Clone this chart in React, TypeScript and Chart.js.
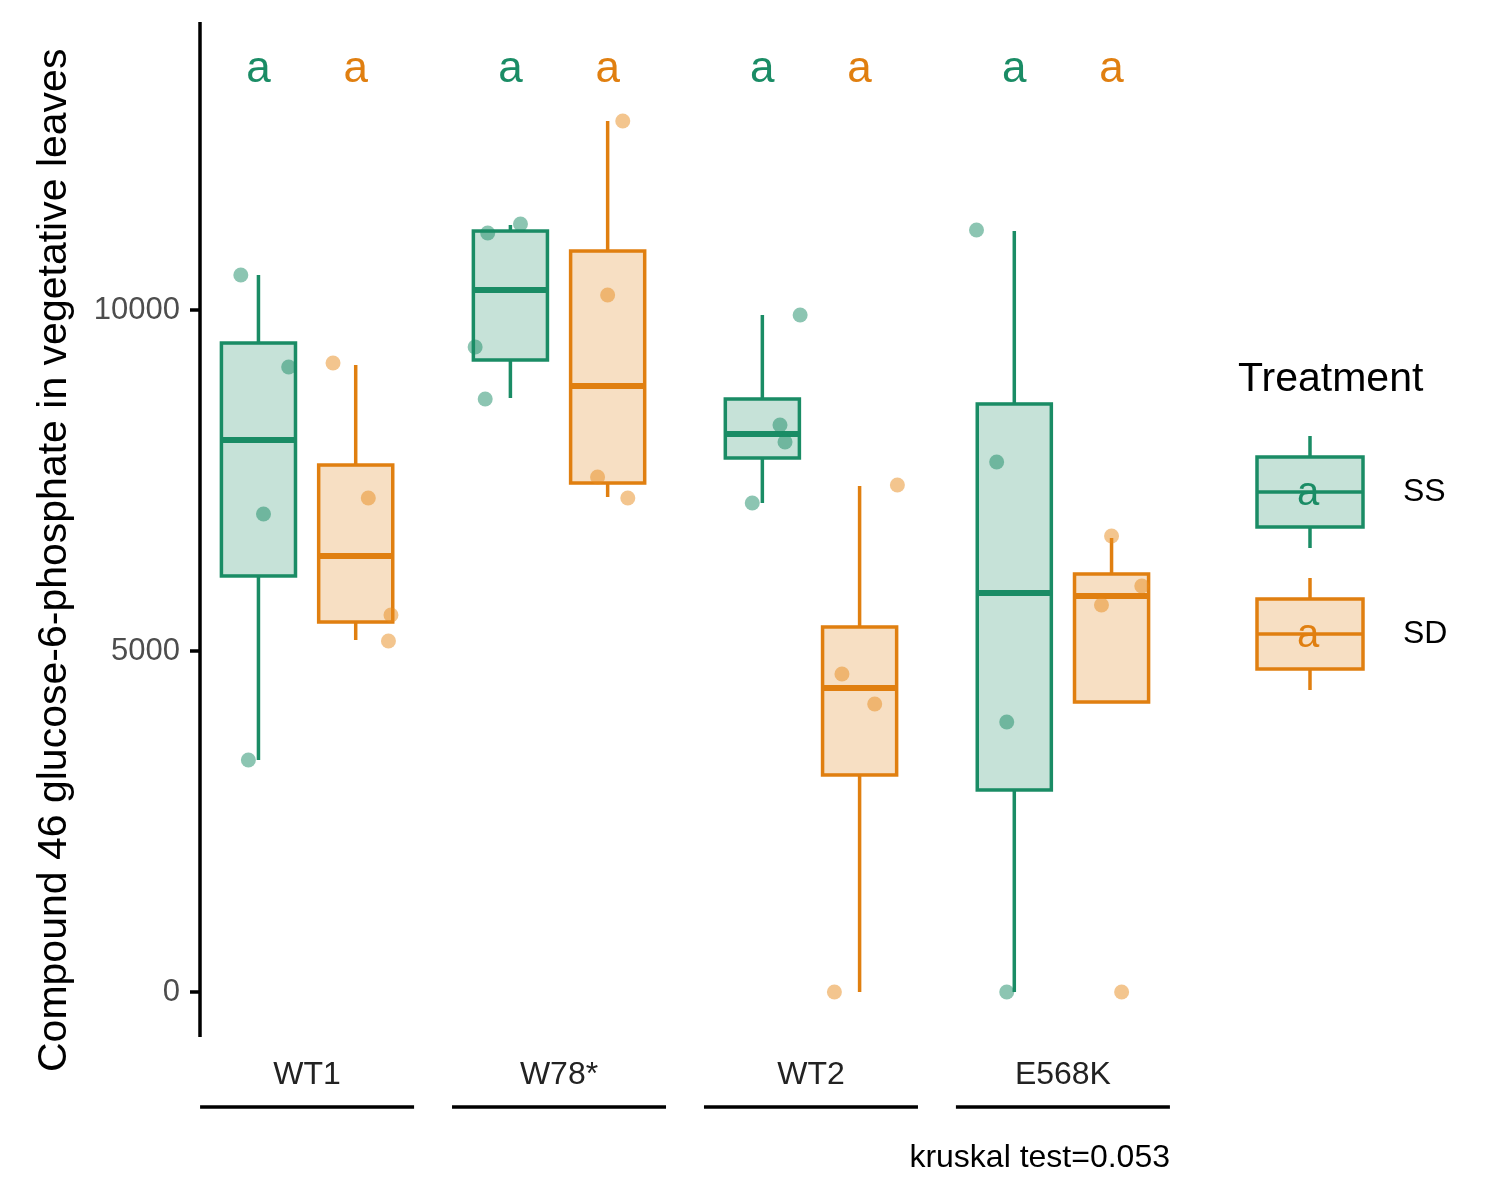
import React, { useEffect, useRef } from "react";
import { Chart, registerables } from "chart.js";
Chart.register(...registerables);

const categories = ["WT1", "W78*", "WT2", "E568K"];
const treatments = ["SS", "SD"];
const colors = ["#1a8c65", "#e07f10"];
const fills = ["rgba(26,140,101,0.25)", "rgba(224,127,16,0.25)"];
const pointColors = ["rgba(26,140,101,0.5)", "rgba(232,140,30,0.5)"];
// [low, q1, median, q3, high]
const boxSS = [
  [3402, 6100, 8094, 9516, 10513],
  [8710, 9267, 10293, 11158, 11246],
  [7170, 7830, 8182, 8695, 9927],
  [0, 2962, 5850, 8622, 11158],
];
const boxSD = [
  [5161, 5425, 6393, 7727, 9194],
  [7258, 7463, 8886, 10865, 12771],
  [0, 3182, 4457, 5352, 7419],
  [4252, 4252, 5806, 6129, 6657],
];
// points: [xOffset, value]
const ptsSS = [
  [[-0.07, 10513], [0.12, 9164], [0.02, 7009], [-0.04, 3402]],
  [[0.04, 11261], [-0.09, 11129], [-0.14, 9457], [-0.1, 8695]],
  [[0.15, 9927], [0.07, 8314], [0.09, 8065], [-0.04, 7170]],
  [[-0.15, 11173], [-0.07, 7771], [-0.03, 3959], [-0.03, 0]],
];
const ptsSD = [
  [[-0.09, 9223], [0.05, 7243], [0.14, 5528], [0.13, 5147]],
  [[0.06, 12771], [0.0, 10220], [-0.04, 7551], [0.08, 7243]],
  [[0.15, 7434], [-0.07, 4663], [0.06, 4223], [-0.1, 0]],
  [[0.0, 6686], [0.12, 5953], [-0.04, 5674], [0.04, 0]],
];
const letters = [["a", "a"], ["a", "a"], ["a", "a"], ["a", "a"]];
const letterY = 13490;
const yTicks = [0, 5000, 10000];
const yTitle = "Compound 46 glucose-6-phosphate in vegetative leaves";
const note = "kruskal test=0.053";
const OFF = 0.193;
const HALF = 0.147;
const FONT = "'Liberation Sans', Arial, sans-serif";

export default function App() {
  const ref = useRef<HTMLCanvasElement>(null);
  useEffect(() => {
    document.body.style.margin = "0";
    const boxes = [boxSS, boxSD];
    const pts = [ptsSS, ptsSD];
    const datasets = treatments.map((t, ti) => ({
      type: "scatter" as const,
      label: t,
      data: pts[ti].flatMap((g, gi) =>
        g.map(([dx, v]) => ({ x: gi + 1 + (ti === 0 ? -OFF : OFF) + dx, y: v }))
      ),
      backgroundColor: pointColors[ti],
      borderWidth: 0,
      pointRadius: 7.5,
    }));
    const plugin = {
      id: "box",
      beforeDatasetsDraw(chart: any) {
        const { ctx, scales, chartArea } = chart;
        const xs = scales.x, ys = scales.y;
        ctx.save();
        boxes.forEach((bs, ti) => {
          bs.forEach((b, gi) => {
            const c = gi + 1 + (ti === 0 ? -OFF : OFF);
            const xl = xs.getPixelForValue(c - HALF), xr = xs.getPixelForValue(c + HALF);
            const xc = xs.getPixelForValue(c);
            const [lo, q1, md, q3, hi] = b.map((v) => ys.getPixelForValue(v));
            ctx.strokeStyle = colors[ti];
            ctx.lineWidth = 3.5;
            ctx.beginPath();
            ctx.moveTo(xc, hi); ctx.lineTo(xc, q3);
            ctx.moveTo(xc, q1); ctx.lineTo(xc, lo);
            ctx.stroke();
            ctx.fillStyle = fills[ti];
            ctx.fillRect(xl, q3, xr - xl, q1 - q3);
            ctx.strokeRect(xl, q3, xr - xl, q1 - q3);
            ctx.lineWidth = 6;
            ctx.beginPath(); ctx.moveTo(xl, md); ctx.lineTo(xr, md); ctx.stroke();
            ctx.fillStyle = colors[ti];
            ctx.font = `44px ${FONT}`;
            ctx.textAlign = "center";
            ctx.textBaseline = "middle";
            ctx.fillText(letters[gi][ti], xc, ys.getPixelForValue(letterY) - 2);
          });
        });
        // axes
        ctx.strokeStyle = "#000";
        ctx.lineWidth = 3.5;
        ctx.beginPath();
        ctx.moveTo(chartArea.left, chartArea.top); ctx.lineTo(chartArea.left, chartArea.bottom);
        ctx.stroke();
        ctx.font = `31px ${FONT}`;
        ctx.fillStyle = "#4d4d4d";
        ctx.textAlign = "right";
        ctx.textBaseline = "middle";
        yTicks.forEach((t) => {
          const y = ys.getPixelForValue(t);
          ctx.fillText(String(t), chartArea.left - 20, y);
          ctx.beginPath(); ctx.moveTo(chartArea.left - 10, y); ctx.lineTo(chartArea.left, y); ctx.stroke();
        });
        ctx.textAlign = "center";
        ctx.fillStyle = "#222";
        ctx.font = `32px ${FONT}`;
        categories.forEach((c, i) => {
          const x = xs.getPixelForValue(i + 1);
          ctx.fillText(c, x, 1075);
          ctx.beginPath(); ctx.moveTo(x - 107, 1107); ctx.lineTo(x + 107, 1107); ctx.stroke();
        });
        ctx.textAlign = "right";
        ctx.fillStyle = "#000";
        ctx.fillText(note, chartArea.right, 1158);
        ctx.save();
        ctx.translate(55, 1072);
        ctx.rotate(-Math.PI / 2);
        ctx.textAlign = "left";
        ctx.fillStyle = "#000";
        ctx.font = `41px ${FONT}`;
        ctx.fillText(yTitle, 0, 0);
        ctx.restore();
        // legend
        ctx.fillStyle = "#000";
        ctx.font = `41px ${FONT}`;
        ctx.textAlign = "left";
        ctx.fillText("Treatment", 1238, 380);
        treatments.forEach((t, ti) => {
          const cy = 492 + ti * 142;
          ctx.strokeStyle = colors[ti];
          ctx.lineWidth = 3.5;
          ctx.beginPath(); ctx.moveTo(1310, cy - 56); ctx.lineTo(1310, cy + 56); ctx.stroke();
          ctx.fillStyle = "#fff";
          ctx.fillRect(1257, cy - 35, 106, 70);
          ctx.fillStyle = fills[ti];
          ctx.fillRect(1257, cy - 35, 106, 70);
          ctx.strokeRect(1257, cy - 35, 106, 70);
          ctx.beginPath(); ctx.moveTo(1257, cy); ctx.lineTo(1363, cy); ctx.stroke();
          ctx.fillStyle = colors[ti];
          ctx.font = `40px ${FONT}`;
          ctx.textAlign = "center";
          ctx.fillText("a", 1308, cy + 2);
          ctx.fillStyle = "#000";
          ctx.font = `32px ${FONT}`;
          ctx.textAlign = "left";
          ctx.fillText(t, 1403, cy);
        });
        ctx.restore();
      },
    };
    const chart = new Chart(ref.current!, {
      type: "scatter",
      data: { datasets },
      options: {
        animation: false,
        responsive: false,
        layout: { padding: { left: 200, right: 330, top: 22, bottom: 163 } },
        plugins: { legend: { display: false }, tooltip: { enabled: false } },
        scales: {
          x: { type: "linear", min: 0.575, max: 4.425, display: false },
          y: { type: "linear", min: -660, max: 14223, display: false },
        },
      },
      plugins: [plugin],
    });
    return () => chart.destroy();
  }, []);
  return <canvas ref={ref} width={1500} height={1200} style={{ display: "block" }} />;
}
